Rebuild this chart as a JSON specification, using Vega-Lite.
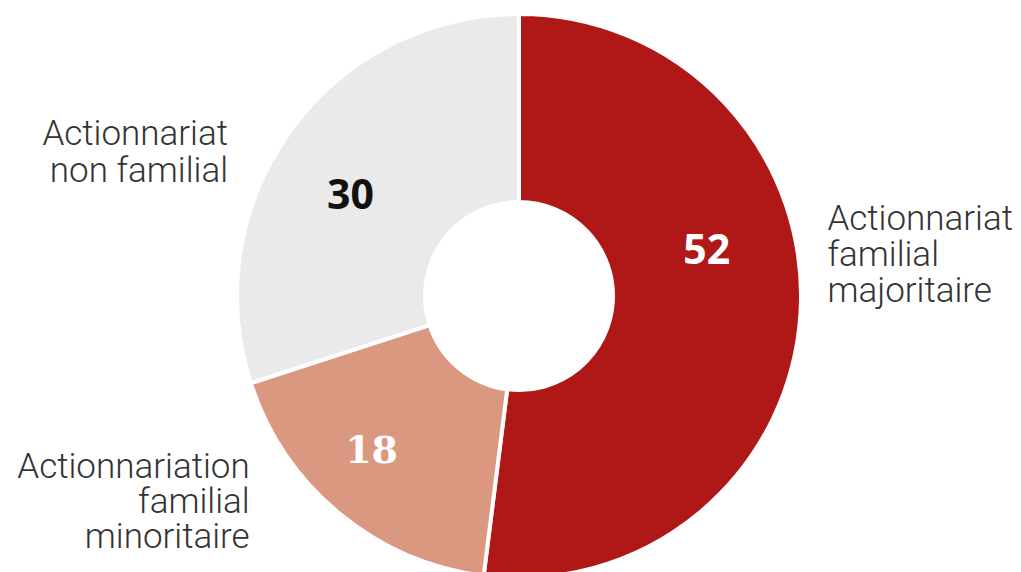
{
  "$schema": "https://vega.github.io/schema/vega-lite/v6.json",
  "width": 1000,
  "height": 560,
  "autosize": {"type": "none"},
  "padding": {"left": 19, "top": 16, "right": 0, "bottom": 0},
  "background": "white",
  "config": {"view": {"stroke": null}},
  "data": {
    "values": [
      {"category": "Actionnariat familial majoritaire", "value": 52, "order": 1, "label": "Actionnariat\nfamilial\nmajoritaire"},
      {"category": "Actionnariation familial minoritaire", "value": 18, "order": 2, "label": "Actionnariation\nfamilial\nminoritaire"},
      {"category": "Actionnariat non familial", "value": 30, "order": 3, "label": "Actionnariat\nnon familial"}
    ]
  },
  "encoding": {
    "theta": {"field": "value", "type": "quantitative", "stack": true},
    "order": {"field": "order", "type": "quantitative"}
  },
  "layer": [
    {
      "mark": {"type": "arc", "outerRadius": 282, "innerRadius": 94, "stroke": "white", "strokeWidth": 4},
      "encoding": {
        "color": {
          "field": "category", "type": "nominal", "legend": null,
          "scale": {
            "domain": ["Actionnariat familial majoritaire", "Actionnariation familial minoritaire", "Actionnariat non familial"],
            "range": ["#B01717", "#DA9880", "#EAEAEA"]
          }
        }
      }
    },
    {
      "mark": {"type": "text", "radius": 188, "dy": -56, "font": "Open Sans", "fontWeight": "bold", "fontSize": 41, "color": "white"},
      "encoding": {
        "text": {"condition": {"test": "datum.category === 'Actionnariat familial majoritaire'", "field": "value", "type": "quantitative"}, "value": ""}
      }
    },
    {
      "mark": {"type": "text", "radius": 196, "dx": -10, "dy": 16, "font": "Open Sans", "fontWeight": "bold", "fontSize": 41, "color": "#111111"},
      "encoding": {
        "text": {"condition": {"test": "datum.category === 'Actionnariat non familial'", "field": "value", "type": "quantitative"}, "value": ""}
      }
    },
    {
      "mark": {"type": "text", "radius": 214, "dx": -11, "dy": -9, "font": "DejaVu Serif", "fontWeight": "bold", "fontSize": 38, "color": "white"},
      "encoding": {
        "text": {"condition": {"test": "datum.category === 'Actionnariation familial minoritaire'", "field": "value", "type": "quantitative"}, "value": ""}
      }
    },
    {
      "mark": {"type": "text", "radius": 312, "dx": -3, "dy": -97, "align": "left", "baseline": "middle", "lineBreak": "\n", "lineHeight": 36, "font": "Roboto", "fontWeight": 300, "fontSize": 35, "color": "#333333"},
      "encoding": {
        "text": {"condition": {"test": "datum.category === 'Actionnariat familial majoritaire'", "field": "label", "type": "nominal"}, "value": ""}
      }
    },
    {
      "mark": {"type": "text", "radius": 330, "dx": -24, "dy": 32, "align": "right", "baseline": "middle", "lineBreak": "\n", "lineHeight": 37, "font": "Roboto", "fontWeight": 300, "fontSize": 35, "color": "#333333"},
      "encoding": {
        "text": {"condition": {"test": "datum.category === 'Actionnariat non familial'", "field": "label", "type": "nominal"}, "value": ""}
      }
    },
    {
      "mark": {"type": "text", "radius": 330, "dx": -59, "dy": -83, "align": "right", "baseline": "middle", "lineBreak": "\n", "lineHeight": 35, "font": "Roboto", "fontWeight": 300, "fontSize": 35, "color": "#333333"},
      "encoding": {
        "text": {"condition": {"test": "datum.category === 'Actionnariation familial minoritaire'", "field": "label", "type": "nominal"}, "value": ""}
      }
    }
  ]
}
